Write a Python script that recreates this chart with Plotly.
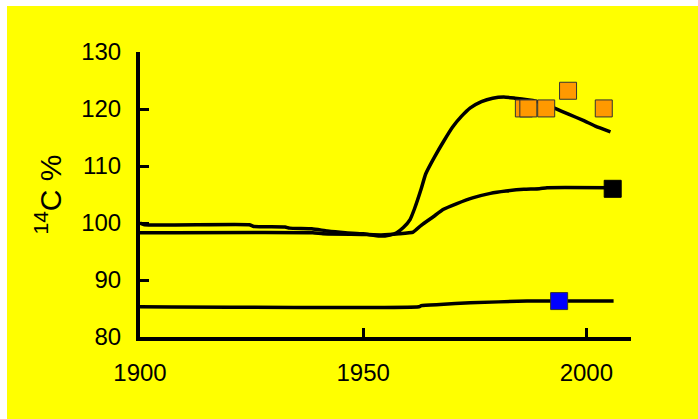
import plotly.graph_objects as go

# Upper curve (bomb-peak curve)
upper_years = [1900, 1901, 1924.5, 1925.5, 1932.5, 1933.5, 1938.5, 1942, 1946, 1950, 1953.7, 1956, 1957.5, 1959,
               1960.5, 1961.5, 1963, 1964, 1966, 1968, 1970, 1972, 1974, 1976.5, 1979, 1981.5,
               1984, 1988, 1991, 1993, 1996, 1999.3, 2002, 2005.4]
upper_vals = [100.0, 99.7, 99.7, 99.4, 99.3, 99.1, 99.0, 98.6, 98.3, 98.1, 97.7, 97.9, 98.3, 99.2,
              100.6, 102.5, 106.0, 108.6, 111.6, 114.3, 116.8, 118.7, 120.2, 121.3, 121.9, 122.1,
              121.9, 121.5, 120.8, 120.1, 119.1, 118.0, 117.0, 116.0]

# Middle curve
middle_years = [1900, 1938.7, 1941, 1950, 1954, 1958, 1961.2, 1963, 1965.7, 1968, 1971, 1974.5, 1978.5,
                1982, 1986, 1989.5, 1991.2, 2005.4]
middle_vals = [98.3, 98.3, 98.1, 98.0, 97.9, 98.1, 98.4, 99.6, 101.1, 102.4, 103.4, 104.4, 105.2,
               105.6, 105.9, 106.0, 106.2, 106.2]

# Lower curve
lower_years = [1900, 1962.5, 1963, 1967.2, 1974, 1986.7, 1994, 2006.1]
lower_vals = [85.3, 85.3, 85.5, 85.7, 86.0, 86.3, 86.3, 86.3]

# Measured points
orange_years = [1986.0, 1987.0, 1991.0, 1995.9, 2003.9]
orange_vals = [120.1, 120.1, 120.1, 123.2, 120.1]
black_years = [2005.9]
black_vals = [106.0]
blue_years = [1993.9]
blue_vals = [86.3]

x_ticks = [1900, 1950, 2000]
y_ticks = [80, 90, 100, 110, 120, 130]

FONT = "Liberation Sans, Arial, sans-serif"

fig = go.Figure()
for xs, ys in [(upper_years, upper_vals), (middle_years, middle_vals), (lower_years, lower_vals)]:
    fig.add_trace(go.Scatter(x=xs, y=ys, mode="lines",
                             line=dict(color="black", width=3.5, shape="spline", smoothing=0.4),
                             showlegend=False, hoverinfo="skip"))

fig.add_trace(go.Scatter(x=orange_years, y=orange_vals, mode="markers",
                         marker=dict(symbol="square", size=17, color="#FF9900",
                                     line=dict(color="#333333", width=1)),
                         showlegend=False))
fig.add_trace(go.Scatter(x=black_years, y=black_vals, mode="markers",
                         marker=dict(symbol="square", size=17, color="black",
                                     line=dict(color="black", width=1)),
                         showlegend=False))
fig.add_trace(go.Scatter(x=blue_years, y=blue_vals, mode="markers",
                         marker=dict(symbol="square", size=17, color="#0000FF",
                                     line=dict(color="#333333", width=1)),
                         showlegend=False))

L, T, R, B = 140, 52, 67, 82
W, H = 698, 419
pw, ph = W - L - R, H - T - B

fig.update_layout(
    width=W, height=H,
    margin=dict(l=L, r=R, t=T, b=B, pad=0),
    paper_bgcolor="white",
    plot_bgcolor="rgba(0,0,0,0)",
    font=dict(family=FONT, size=24, color="black"),
    shapes=[dict(type="rect", xref="paper", yref="paper", layer="below",
                 x0=(7 - L) / pw, x1=(W + 20 - L) / pw,
                 y0=-(B + 20) / ph, y1=(H - B - 6) / ph,
                 fillcolor="#FFFF00", line=dict(width=0))],
    annotations=[dict(text="<sup>14</sup>C %", xref="paper", yref="paper",
                      x=(48 - L) / pw, y=0.5, xanchor="center", yanchor="middle",
                      textangle=-90, showarrow=False,
                      font=dict(family=FONT, size=30, color="black"))],
)
fig.update_xaxes(range=[1900, 2010], tickvals=x_ticks, ticktext=[str(v) for v in x_ticks],
                 showgrid=False, zeroline=False, showline=True, linecolor="black", linewidth=4,
                 ticks="inside", ticklen=9, tickwidth=3, tickcolor="black",
                 ticklabelstandoff=11, tickfont=dict(size=24))
fig.update_yaxes(range=[80, 130], tickvals=y_ticks, ticktext=[str(v) for v in y_ticks],
                 showgrid=False, zeroline=False, showline=True, linecolor="black", linewidth=4,
                 ticks="inside", ticklen=9, tickwidth=3, tickcolor="black",
                 ticklabelstandoff=10, tickfont=dict(size=24))

fig.write_html("out.html", config={"displayModeBar": False},
               post_script="document.body.style.margin='0px';document.body.style.overflow='hidden';")
